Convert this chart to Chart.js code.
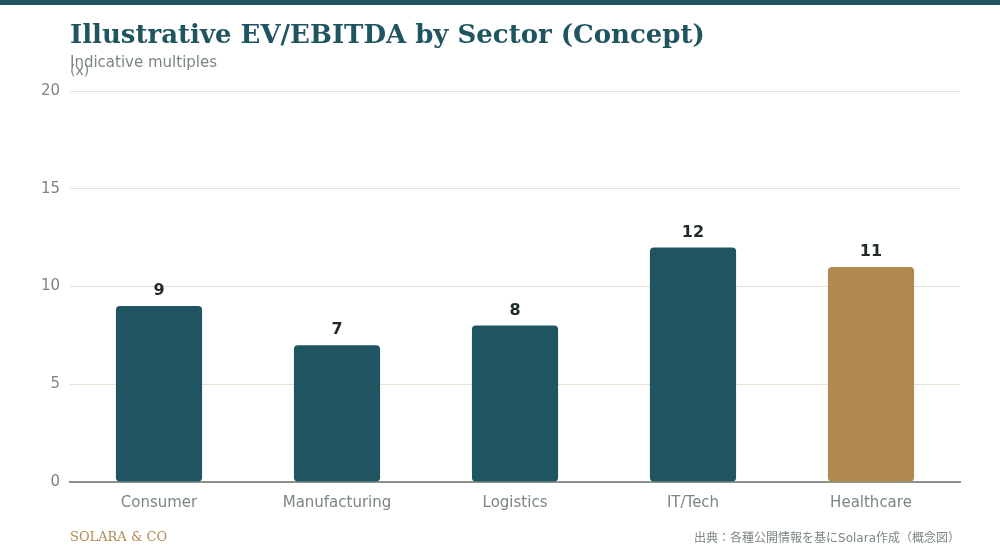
<!DOCTYPE html>
<html>
<head>
<meta charset="utf-8">
<script src="https://cdn.jsdelivr.net/npm/chart.js@4.4.1/dist/chart.umd.min.js"></script>
<style>
  html, body { margin: 0; padding: 0; background: #fff; }
  #wrap { position: relative; width: 1000px; height: 560px; }
</style>
</head>
<body>
<div id="wrap"><canvas id="evChart" width="1000" height="560"></canvas></div>
<script>
const sectors = ['Consumer', 'Manufacturing', 'Logistics', 'IT/Tech', 'Healthcare'];
const multiples = [9, 7, 8, 12, 11];
const yTicks = [0, 5, 10, 15, 20];

const TEAL = '#1f5461';
const GOLD = '#b08a4e';
const GREY = '#7b8681';

// title, subtitle, footers and value labels
const decor = {
    id: 'decor',
    afterDraw(chart) {
        const ctx = chart.ctx;
        ctx.save();
        ctx.fillStyle = TEAL;
        ctx.fillRect(0, 0, 1000, 5);

        ctx.textAlign = 'left';
        ctx.textBaseline = 'middle';
        ctx.fillStyle = TEAL;
        ctx.font = 'bold 26px "DejaVu Serif"';
        ctx.fillText('Illustrative EV/EBITDA by Sector (Concept)', 70, 36);

        ctx.fillStyle = GREY;
        ctx.font = '15px "DejaVu Sans"';
        ctx.fillText('Indicative multiples', 70, 63);
        ctx.font = '14px "DejaVu Sans"';
        ctx.fillText('(x)', 70, 71);

        ctx.fillStyle = GOLD;
        ctx.font = '13px "DejaVu Serif"';
        ctx.fillText('SOLARA & CO', 70, 538);

        ctx.textAlign = 'right';
        ctx.fillStyle = GREY;
        ctx.font = '12px "DejaVu Sans", "Noto Sans CJK JP"';
        ctx.fillText('出典：各種公開情報を基にSolara作成（概念図）', 960, 539);

        const meta = chart.getDatasetMeta(0);
        ctx.textAlign = 'center';
        ctx.textBaseline = 'bottom';
        ctx.fillStyle = '#1f2b2b';
        ctx.font = 'bold 16px "DejaVu Sans"';
        meta.data.forEach((bar, i) => {
            ctx.fillText(String(multiples[i]), bar.x, bar.y - 7);
        });
        ctx.restore();
    }
};

new Chart(document.getElementById('evChart').getContext('2d'), {
    type: 'bar',
    data: {
        labels: sectors,
        datasets: [{
            data: multiples,
            backgroundColor: sectors.map(s => s === 'Healthcare' ? GOLD : TEAL),
            borderRadius: 4,
            borderSkipped: false,
            categoryPercentage: 0.8,
            barPercentage: 0.605
        }]
    },
    options: {
        responsive: false,
        animation: false,
        devicePixelRatio: 1,
        layout: { padding: { top: 91, right: 40, bottom: 38, left: 0 } },
        plugins: {
            legend: { display: false },
            tooltip: { enabled: false }
        },
        scales: {
            x: {
                grid: { display: false, drawTicks: false },
                border: { display: true, color: '#8b938d', width: 2 },
                ticks: { color: GREY, font: { family: 'DejaVu Sans', size: 15 }, padding: 12 },
                afterFit(scale) { scale.height = 40; }
            },
            y: {
                min: 0,
                max: 20,
                afterBuildTicks(scale) { scale.ticks = yTicks.map(v => ({ value: v })); },
                grid: { color: '#e7e1d4', lineWidth: 1, drawTicks: false },
                border: { display: false },
                ticks: { color: GREY, font: { family: 'DejaVu Sans', size: 15 }, padding: 10 },
                afterFit(scale) { scale.width = 70; }
            }
        }
    },
    plugins: [decor]
});
</script>
</body>
</html>
